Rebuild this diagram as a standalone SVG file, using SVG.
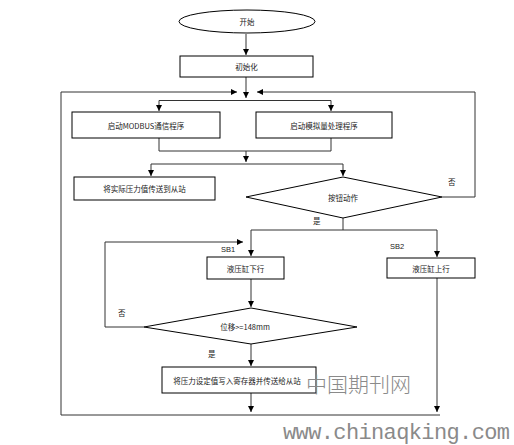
<svg xmlns="http://www.w3.org/2000/svg" width="514" height="445" viewBox="0 0 514 445">
<style>
.n{fill:#fff;stroke:#000;stroke-width:1}
.t{font-family:"Noto Sans CJK SC","Liberation Sans",sans-serif;font-size:7.5px;fill:#222;text-anchor:middle;dominant-baseline:central}
.l{font-family:"Liberation Sans","Noto Sans CJK SC",sans-serif;font-size:7.5px;fill:#222}
.c{fill:none;stroke:#333;stroke-width:1}
.wm{fill:#8a8a8a}
</style>
<defs>
<marker id="a" markerWidth="6" markerHeight="6" refX="6" refY="3" orient="auto" markerUnits="userSpaceOnUse">
<path d="M0,0 L6,3 L0,6 Z" fill="#000"/>
</marker>
</defs>
<rect width="514" height="445" fill="#fff"/>
<g id="connectors">
<path class="c" d="M246,34 V55" marker-end="url(#a)"/>
<path class="c" d="M246,77 V98" marker-end="url(#a)"/>
<path class="c" d="M61,415 V92 H237" marker-end="url(#a)"/>
<path class="c" d="M442,197 H475 V92 H257" marker-end="url(#a)"/>
<path class="c" d="M159,100.5 H331"/>
<path class="c" d="M159,100.5 V111" marker-end="url(#a)"/>
<path class="c" d="M331,100.5 V111" marker-end="url(#a)"/>
<path class="c" d="M159,138 V151 H331 V138"/>
<path class="c" d="M246,151 V162" marker-end="url(#a)"/>
<path class="c" d="M151,164 H343"/>
<path class="c" d="M151,164 V176" marker-end="url(#a)"/>
<path class="c" d="M343,164 V176" marker-end="url(#a)"/>
<path class="c" d="M343,218 V230"/>
<path class="c" d="M251,230 H437"/>
<path class="c" d="M251,230 V256" marker-end="url(#a)"/>
<path class="c" d="M437,230 V257" marker-end="url(#a)"/>
<path class="c" d="M144,327 H105 V242 H243" marker-end="url(#a)"/>
<path class="c" d="M251,279 V307" marker-end="url(#a)"/>
<path class="c" d="M251,344 V366" marker-end="url(#a)"/>
<path class="c" d="M251,393 V412" marker-end="url(#a)"/>
<path class="c" d="M437,278 V412" marker-end="url(#a)"/>
<path class="c" d="M61,415 H440"/>
<text class="l" x="448" y="185">否</text>
<text class="l" x="313" y="224">是</text>
<text class="l" x="221" y="252">SB1</text>
<text class="l" x="390" y="249">SB2</text>
<text class="l" x="118" y="316">否</text>
<text class="l" x="208" y="357">是</text>
</g>
<g id="start"><ellipse class="n" cx="247" cy="21.5" rx="68" ry="11.5"/><text class="t" x="247" y="21.5">开始</text></g>
<g id="init"><rect class="n" x="180" y="56" width="133" height="21"/><text class="t" x="246.5" y="66.5">初始化</text></g>
<g id="modbus"><rect class="n" x="72" y="112" width="148" height="26"/><text class="t" x="146" y="125">启动MODBUS通信程序</text></g>
<g id="analog"><rect class="n" x="256" y="112" width="136" height="26"/><text class="t" x="324" y="125">启动模拟量处理程序</text></g>
<g id="send"><rect class="n" x="74" y="177" width="141" height="23"/><text class="t" x="144.5" y="188.5">将实际压力值传送到从站</text></g>
<g id="button"><polygon class="n" points="343,177 442,197 343,218 246,197"/><text class="t" x="343" y="197">按钮动作</text></g>
<g id="down"><rect class="n" x="207" y="257" width="77" height="22"/><text class="t" x="245.5" y="268">液压缸下行</text></g>
<g id="up"><rect class="n" x="387" y="258" width="88" height="20"/><text class="t" x="431" y="268">液压缸上行</text></g>
<g id="disp"><polygon class="n" points="251,308 357,327 251,344 144,327"/><text class="t" x="245" y="326">位移&gt;=148mm</text></g>
<g id="write"><rect class="n" x="162" y="367" width="154" height="26"/><text class="t" x="237" y="380">将压力设定值写入寄存器并传送给从站</text></g>
<text class="wm" x="306" y="392" font-size="21" style="font-family:'Noto Sans CJK SC',sans-serif;font-weight:300" fill="#999">中国期刊网</text>
<text class="wm" x="283" y="439" font-size="22" textLength="227" style="font-family:'Liberation Mono','DejaVu Sans Mono',monospace">www.chinaqking.com</text>
</svg>
